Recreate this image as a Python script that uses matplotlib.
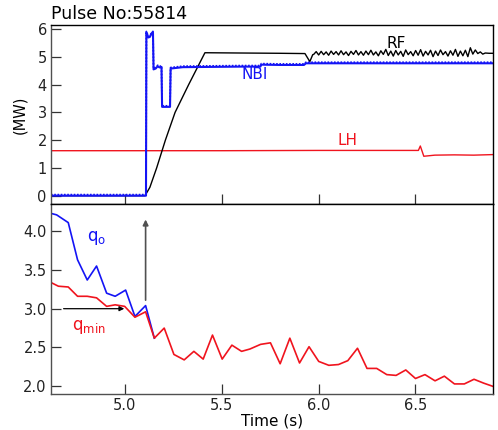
"""
Pulse 55814: heating power (NBI, RF, LH) and q-profile (q_o, q_min) vs time.
"""
import numpy as np
import matplotlib
matplotlib.use("Agg")
import matplotlib.pyplot as plt
import matplotlib.transforms as mtransforms

plt.rcParams["font.family"] = ["DejaVu Sans"]

# ---- top panel: heating power (MW) ----
nbi_t = [4.62, 5.110, 5.112, 5.122, 5.130, 5.140, 5.146, 5.149, 5.160, 5.170,
         5.180, 5.190, 5.193, 5.234, 5.237, 5.30, 5.45, 5.60, 5.700, 5.705,
         5.80, 5.925, 5.935, 6.20, 6.50, 6.90]
nbi_v = [0.0, 0.0, 5.88, 5.70, 5.72, 5.86, 5.88, 4.55, 4.58, 4.66,
         4.62, 4.64, 3.20, 3.20, 4.58, 4.63, 4.64, 4.65, 4.65, 4.72,
         4.71, 4.71, 4.77, 4.77, 4.77, 4.77]

rf_t = [4.62, 5.105, 5.13, 5.165, 5.21, 5.26, 5.33, 5.414, 5.60, 5.80,
        5.930, 5.955, 5.970]
rf_v = [0.0, 0.0, 0.30, 1.00, 2.00, 3.00, 4.00, 5.15, 5.14, 5.13,
        5.12, 4.83, 5.08]
# zig-zag section of the RF trace
rf_zz_v = [5.09, 5.19, 5.07, 5.20, 5.08, 5.18, 5.06, 5.21, 5.09, 5.19,
           5.07, 5.22, 5.08, 5.18, 5.05, 5.20, 5.09, 5.23, 5.07, 5.19,
           5.06, 5.21, 5.08, 5.24, 5.07, 5.18, 5.04, 5.22, 5.09, 5.27,
           5.05, 5.21, 5.03, 5.23, 5.07, 5.20, 5.02, 5.25, 5.08, 5.19,
           5.04, 5.23, 5.06, 5.26, 5.03, 5.20, 5.07, 5.24, 5.01, 5.21,
           5.05, 5.25, 5.08, 5.19, 5.03, 5.22, 5.06, 5.27, 5.02, 5.21,
           5.04, 5.24, 5.01, 5.33, 5.10, 5.25, 5.12, 5.18, 5.10, 5.14]
rf_zz_t = np.linspace(5.975, 6.86, len(rf_zz_v))
rf_end_t = [6.88, 6.90]
rf_end_v = [5.13, 5.13]

lh_t = [4.62, 5.50, 6.00, 6.515, 6.525, 6.543, 6.60, 6.70, 6.80, 6.90]
lh_v = [1.62, 1.62, 1.63, 1.63, 1.79, 1.42, 1.46, 1.47, 1.46, 1.48]

# ---- bottom panel: safety factor ----
qo_t = [4.618, 4.649, 4.709, 4.757, 4.807, 4.855, 4.907, 4.951, 5.005, 5.053,
        5.108, 5.153]
qo_v = [4.23, 4.21, 4.11, 3.63, 3.37, 3.55, 3.20, 3.16, 3.24, 2.90,
        3.04, 2.62]

qmin_t = [4.618, 4.658, 4.709, 4.757, 4.807, 4.855, 4.907, 4.951, 5.000, 5.053,
          5.108, 5.153, 5.204, 5.254, 5.307, 5.357, 5.405, 5.453, 5.503, 5.553,
          5.603, 5.646, 5.701, 5.752, 5.802, 5.852, 5.902, 5.951, 6.001, 6.053,
          6.103, 6.151, 6.201, 6.250, 6.300, 6.352, 6.400, 6.450, 6.500, 6.549,
          6.601, 6.649, 6.701, 6.752, 6.802, 6.852, 6.898]
qmin_v = [3.34, 3.29, 3.28, 3.16, 3.16, 3.14, 3.03, 3.05, 3.03, 2.89,
          2.96, 2.62, 2.75, 2.41, 2.34, 2.45, 2.35, 2.66, 2.35, 2.53,
          2.45, 2.48, 2.54, 2.56, 2.29, 2.62, 2.30, 2.51, 2.32, 2.27,
          2.28, 2.33, 2.49, 2.23, 2.23, 2.15, 2.14, 2.21, 2.10, 2.15,
          2.07, 2.13, 2.03, 2.03, 2.09, 2.04, 2.00]

BLUE = "#1414f5"
RED = "#f0141e"
GREY = "#505050"

fig = plt.figure(figsize=(4.98, 4.30), dpi=100)
ax1 = fig.add_axes([0.1024, 0.5256, 0.8876, 0.4163])
ax2 = fig.add_axes([0.1024, 0.0837, 0.8876, 0.4419])

for ax in (ax1, ax2):
    ax.set_xlim(4.62, 6.90)
    ax.set_xticks([5.0, 5.5, 6.0, 6.5])
    ax.tick_params(direction="in", length=7, width=0.9, color="#333333",
                   labelsize=10.5, labelcolor="#222222", pad=3)
    ax.spines["left"].set_color(GREY)
    for s in ax.spines.values():
        s.set_linewidth(1.0)

# top panel
ax1.set_ylim(-0.3, 6.15)
ax1.set_yticks(range(0, 7))
ax1.tick_params(axis="x", labelbottom=False)
ax1.set_ylabel("(MW)", fontsize=10.5, labelpad=7)

rf_all_t = list(rf_t) + list(rf_zz_t) + rf_end_t
rf_all_v = rf_v + rf_zz_v + rf_end_v
ax1.plot(lh_t, lh_v, color=RED, lw=1.0)
ax1.plot(rf_all_t, rf_all_v, color="black", lw=1.0)
ax1.plot(nbi_t, nbi_v, color=BLUE, lw=1.5)
# ripple texture of the NBI trace
shift = mtransforms.offset_copy(ax1.transData, fig=fig, x=0, y=1.0, units="dots")
ax1.plot(nbi_t, nbi_v, color=BLUE, lw=1.3, ls=(0, (0.9, 0.9)), transform=shift)

ax1.text(6.40, 5.50, "RF", fontsize=11, color="black", ha="center", va="center")
ax1.text(5.67, 4.36, "NBI", fontsize=11, color=BLUE, ha="center", va="center")
ax1.text(6.15, 2.00, "LH", fontsize=11, color=RED, ha="center", va="center")
ax1.text(0.0, 1.01, "Pulse No:55814", transform=ax1.transAxes, fontsize=12.5,
         ha="left", va="bottom")

# bottom panel
ax2.set_ylim(1.9, 4.35)
ax2.set_yticks([2.0, 2.5, 3.0, 3.5, 4.0])
ax2.set_yticklabels(["2.0", "2.5", "3.0", "3.5", "4.0"])
ax2.spines["bottom"].set_color(GREY)
ax2.tick_params(axis="x", pad=3)
ax2.set_xticklabels(["5.0", "5.5", "6.0", "6.5"])
ax2.set_xlabel("Time (s)", fontsize=11, labelpad=0)

ax2.plot(qo_t, qo_v, color=BLUE, lw=1.2)
ax2.plot(qmin_t, qmin_v, color=RED, lw=1.2)

ax2.annotate("", xy=(4.998, 3.0), xytext=(4.685, 3.0),
             arrowprops=dict(arrowstyle="-|>", color="black", lw=0.9,
                             mutation_scale=7, shrinkA=0, shrinkB=0))
ax2.annotate("", xy=(5.108, 4.15), xytext=(5.108, 3.11),
             arrowprops=dict(arrowstyle="-|>", color=GREY, lw=1.2,
                             mutation_scale=8, shrinkA=0, shrinkB=0))
ax2.text(4.855, 3.91, r"q$_\mathregular{o}$", fontsize=12, color=BLUE,
         ha="center", va="center")
ax2.text(4.815, 2.76, r"q$_\mathregular{min}$", fontsize=12, color=RED,
         ha="center", va="center")

fig.savefig("out.png", dpi=100)
